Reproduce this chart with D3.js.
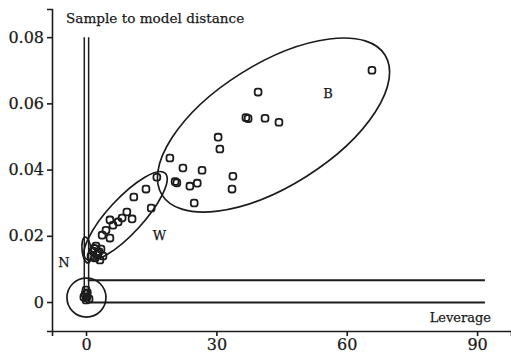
<!DOCTYPE html>
<html>
<head>
<meta charset="utf-8">
<script src="https://cdn.jsdelivr.net/npm/d3@7/dist/d3.min.js"></script>
<style>
  html, body { margin: 0; padding: 0; background: #fff; }
  svg { display: block; }
  text { font-family: "DejaVu Serif", "Liberation Serif", serif; fill: #1a1a1a; stroke: #1a1a1a; stroke-width: 0.25px; }
</style>
</head>
<body>
<svg id="chart" width="511" height="355"></svg>
<script>
// ---- data (leverage, sample-to-model distance) ----
const xTicks = [0, 30, 60, 90];
const yTicks = [0, 0.02, 0.04, 0.06, 0.08];
const yTickLabels = ["0", "0.02", "0.04", "0.06", "0.08"];

// group N (normal) samples near origin and lower cluster
const nLev  = [0, -0.2, 0.2, 0, 0.7, -0.5, 0.3, 2.3, 3.45, 1.6, 2.75, 3.9, 2.1, 3.2, 1.15, 2.5, 3.0, 1.9];
const nDist = [0.0036, 0.0024, 0.0015, 0.0006, 0.0009, 0.0015, 0.0028, 0.0169, 0.0160, 0.0154, 0.0148, 0.0139, 0.0133, 0.0127, 0.0139, 0.0143, 0.0152, 0.0162];

// group W
const wLev  = [16.3, 13.8, 11.0, 15.0, 9.4, 10.6, 8.3, 7.4, 5.5, 6.2, 4.6, 3.7, 5.5];
const wDist = [0.0377, 0.0341, 0.0317, 0.0284, 0.0272, 0.0251, 0.0254, 0.0242, 0.0248, 0.0232, 0.0217, 0.0202, 0.0193];

// group B
const bLev  = [65.8, 39.6, 36.8, 37.3, 41.2, 44.4, 30.4, 30.8, 19.3, 22.3, 26.7, 20.5, 20.9, 23.9, 25.6, 33.8, 33.6, 24.9];
const bDist = [0.0700, 0.0634, 0.0557, 0.0554, 0.0555, 0.0543, 0.0498, 0.0462, 0.0435, 0.0405, 0.0398, 0.0364, 0.0360, 0.0350, 0.0359, 0.0380, 0.0341, 0.0299];

// critical limits
const levLimits  = [-0.4, 0.6];   // vertical limit lines (leverage)
const distLimits = [0.0066, -0.00015]; // horizontal limit lines (distance)

// ---- layout ----
const svg = d3.select("#chart");
const ink = "#1c1c1c";

const x = d3.scaleLinear().domain([-7.83, 97.8]).range([52, 511]);
const y = d3.scaleLinear().domain([-0.00875, 0.0885]).range([331, 9]);

// axes
const xAxis = d3.axisBottom(x).tickValues(xTicks).tickSizeOuter(0).tickSize(5).tickPadding(3);
const gx = svg.append("g").attr("transform", `translate(0,${y.range()[0]})`).call(xAxis);
gx.selectAll("text").style("font-size", "16px").style("font-family", "DejaVu Serif").attr("fill", ink);

const yAxis = d3.axisLeft(y).tickValues(yTicks).tickFormat((d, i) => yTickLabels[i]).tickSizeOuter(0).tickSize(5).tickPadding(3);
const gy = svg.append("g").attr("transform", `translate(${x.range()[0]},0)`).call(yAxis);
gy.selectAll("text").style("font-size", "16px").style("font-family", "DejaVu Serif").attr("fill", ink);

svg.selectAll(".domain, .tick line").attr("stroke", ink).attr("stroke-width", 1.6);

// axis titles
svg.append("text").attr("x", 66).attr("y", 23).style("font-size", "13.6px").text("Sample to model distance");
svg.append("text").attr("x", 491).attr("y", 322).attr("text-anchor", "end").style("font-size", "13px").text("Leverage");

// limit lines
levLimits.forEach(l => {
  svg.append("line")
    .attr("x1", x(l)).attr("x2", x(l))
    .attr("y1", y(0.08)).attr("y2", y(0))
    .attr("stroke", ink).attr("stroke-width", 1.5);
});
distLimits.forEach(dv => {
  svg.append("line")
    .attr("x1", x(0.4)).attr("x2", x(91.8))
    .attr("y1", y(dv)).attr("y2", y(dv))
    .attr("stroke", ink).attr("stroke-width", 2);
});

// group ellipses: major axis endpoints in data units, minor semi-axis in px
function ellipseAt(p1, p2, b) {
  const x1 = x(p1[0]), y1 = y(p1[1]), x2 = x(p2[0]), y2 = y(p2[1]);
  const cx = (x1 + x2) / 2, cy = (y1 + y2) / 2;
  const a = Math.hypot(x2 - x1, y2 - y1) / 2;
  const ang = Math.atan2(y2 - y1, x2 - x1) * 180 / Math.PI;
  svg.append("ellipse")
    .attr("cx", 0).attr("cy", 0).attr("rx", a).attr("ry", b)
    .attr("transform", `translate(${cx},${cy}) rotate(${ang})`)
    .attr("fill", "none").attr("stroke", ink).attr("stroke-width", 1.7);
}
ellipseAt([17.5, 0.0323], [68.8, 0.0746], 61);   // B
ellipseAt([18.2, 0.0389], [0.0, 0.0130], 17.5);  // W
ellipseAt([-0.2, 0.0196], [0.46, 0.0118], 4.5);  // N (upper)
svg.append("circle").attr("cx", x(0.1)).attr("cy", y(0.00136)).attr("r", 19.5)
  .attr("fill", "none").attr("stroke", ink).attr("stroke-width", 1.7);

// group labels
svg.append("text").attr("x", x(-5.1)).attr("y", y(0.0106)).style("font-size", "13px").attr("text-anchor", "middle").text("N");
svg.append("text").attr("x", x(16.9)).attr("y", y(0.0186)).style("font-size", "13px").attr("text-anchor", "middle").text("W");
svg.append("text").attr("x", x(55.7)).attr("y", y(0.0617)).style("font-size", "13px").attr("text-anchor", "middle").text("B");

// points
function drawPts(lev, dist) {
  svg.append("g").selectAll("rect").data(lev.map((l, i) => [l, dist[i]])).join("rect")
    .attr("x", d => x(d[0]) - 3.4).attr("y", d => y(d[1]) - 3.4)
    .attr("width", 6.8).attr("height", 6.8).attr("rx", 2.5)
    .attr("fill", "none").attr("stroke", ink).attr("stroke-width", 1.8);
}
drawPts(nLev, nDist);
drawPts(wLev, wDist);
drawPts(bLev, bDist);
</script>
</body>
</html>
